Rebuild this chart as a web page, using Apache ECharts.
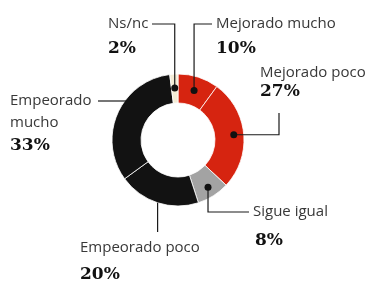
<!DOCTYPE html>
<html>
  <head>
    <meta charset="utf-8">
    <title>Encuesta</title>
    <script src="https://cdn.jsdelivr.net/npm/echarts@6/dist/echarts.min.js"></script>
    <style>
      html, body { margin: 0; padding: 0; background: #fff; }
    </style>
  </head>
  <body>
    <div id="main" style="width:370px;height:285px;"></div>
    <script>
// datos
var categories = ['Mejorado mucho', 'Mejorado poco', 'Sigue igual', 'Empeorado poco', 'Empeorado mucho', 'Ns/nc'];
var values = [10, 27, 8, 20, 33, 2];
var colors = ['#d62410', '#d62410', '#a3a3a3', '#121212', '#121212', '#f3ecd6'];

var cx = 178, cy = 140, rIn = 37, rOut = 66;
var total = values.reduce(function (a, b) { return a + b; }, 0);

// punto sobre el anillo en el medio del sector i, a radio r
function anchor(i, r) {
  var acc = 0;
  for (var k = 0; k < i; k++) acc += values[k];
  var a = (acc + values[i] / 2) / total * Math.PI * 2;
  return [cx + r * Math.sin(a), cy - r * Math.cos(a)];
}

var nameFont = '15px "Open Sans", sans-serif';
var pctFont = 'bold 17px "DejaVu Serif", serif';
var graphics = [];

function txt(x, y, s, font, fill) {
  graphics.push({
    type: 'text', x: x, y: y, z: 10,
    style: { text: s, font: font, fill: fill || '#383838', verticalAlign: 'middle' }
  });
}
function line(pts) {
  graphics.push({
    type: 'polyline', z: 10,
    shape: { points: pts },
    style: { stroke: '#1a1a1a', lineWidth: 1.2, fill: null }
  });
}
function dot(p) {
  graphics.push({
    type: 'circle', z: 11,
    shape: { cx: p[0], cy: p[1], r: 3.5 },
    style: { fill: '#111' }
  });
}

// Ns/nc
var p = anchor(5, 52);
txt(108, 24, categories[5], nameFont);
txt(108, 49, values[5] + '%', pctFont, '#111');
line([[152, 24], [p[0], 24], p]); dot(p);

// Mejorado mucho
p = anchor(0, 52);
txt(216, 24, categories[0], nameFont);
txt(216, 49, values[0] + '%', pctFont, '#111');
line([p, [p[0], 24], [212, 24]]); dot(p);

// Mejorado poco
p = anchor(1, 56);
txt(260, 73, categories[1], nameFont);
txt(260, 92, values[1] + '%', pctFont, '#111');
line([p, [279, p[1]], [279, 113]]); dot(p);

// Sigue igual
p = anchor(2, 56);
txt(253, 212, categories[2], nameFont);
txt(255, 241, values[2] + '%', pctFont, '#111');
line([p, [p[0], 212], [249, 212]]); dot(p);

// Empeorado poco
p = anchor(3, rOut);
txt(80, 248, categories[3], nameFont);
txt(80, 275, values[3] + '%', pctFont, '#111');
line([p, [p[0], 232]]);

// Empeorado mucho
txt(10, 101, 'Empeorado', nameFont);
txt(10, 123, 'mucho', nameFont);
txt(10, 146, values[4] + '%', pctFont, '#111');
line([[98, 101], [126, 101]]);

var myChart = echarts.init(document.getElementById('main'));
myChart.setOption({
  animation: false,
  backgroundColor: '#fff',
  series: [{
    type: 'pie',
    center: [cx, cy],
    radius: [rIn, rOut],
    startAngle: 90,
    clockwise: true,
    label: { show: false },
    labelLine: { show: false },
    itemStyle: { borderColor: '#fff', borderWidth: 0.8 },
    emphasis: { disabled: true },
    data: categories.map(function (c, i) {
      return { name: c, value: values[i], itemStyle: { color: colors[i] } };
    })
  }],
  graphic: graphics
});
    </script>
  </body>
</html>
